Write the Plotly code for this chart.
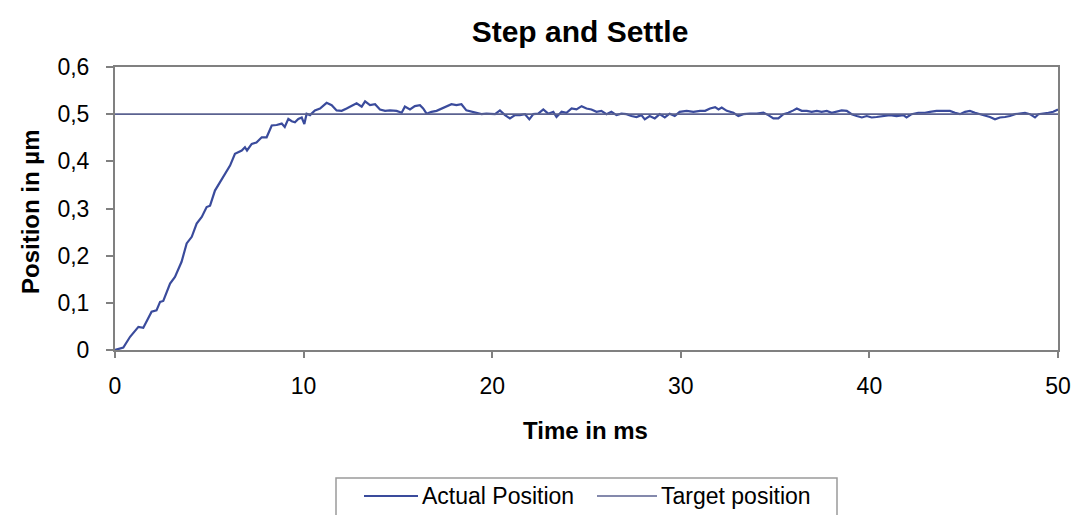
import plotly.graph_objects as go

time_ms = [0.0, 0.44, 0.8, 1.24, 1.5, 1.94, 2.2, 2.39, 2.56, 2.92, 3.18, 3.53, 3.8, 4.07, 4.33, 4.6,
           4.86, 5.04, 5.3, 5.57, 5.83, 6.1, 6.36, 6.54, 6.72, 6.89, 7.0, 7.25, 7.5, 7.78, 8.04,
           8.31, 8.57, 8.84, 9.0, 9.19, 9.37, 9.54, 9.72, 9.9, 10.04,
           10.16, 10.34, 10.6, 10.87, 11.22, 11.49, 11.75, 12.02, 12.28, 12.55, 12.81, 13.08,
           13.26, 13.52, 13.79, 14.05, 14.32, 14.58, 14.93, 15.2, 15.37, 15.64, 15.9, 16.17,
           16.34, 16.52, 16.78, 17.05, 17.31, 17.58, 17.84, 18.1, 18.37, 18.63, 18.9, 19.16,
           19.43, 19.69, 19.96,
           20.15, 20.41, 20.68, 20.94, 21.21, 21.47, 21.74, 21.97, 22.18, 22.44, 22.71, 22.97,
           23.24, 23.41, 23.68, 23.94, 24.21, 24.47, 24.74, 25.0, 25.26, 25.53, 25.79, 26.06,
           26.32, 26.59, 26.85, 27.12, 27.38, 27.65, 27.91, 28.09, 28.35, 28.62, 28.88, 29.15,
           29.41, 29.68, 29.94,
           30.31, 30.67, 31.02, 31.29, 31.55, 31.82, 32.0, 32.17, 32.44, 32.79, 33.05, 33.32,
           33.67, 34.03, 34.38, 34.64, 34.91, 35.17, 35.44, 35.7, 35.97, 36.15, 36.41, 36.68,
           36.94, 37.21, 37.47, 37.74, 38.0, 38.27, 38.53, 38.8, 39.06, 39.33, 39.6, 39.86,
           40.12, 40.38, 40.74, 41.09, 41.44, 41.8, 41.97, 42.24, 42.59, 42.95, 43.21, 43.56,
           43.92, 44.27, 44.54, 44.8, 45.07, 45.33, 45.6, 45.86, 46.13, 46.39, 46.66, 46.92,
           47.19, 47.45, 47.72, 47.98, 48.25, 48.51, 48.78, 48.96, 49.22, 49.49, 49.75, 50.0]

actual_position = [0.0, 0.005, 0.028, 0.049, 0.047, 0.081, 0.084, 0.102, 0.104, 0.141, 0.155, 0.187,
                   0.226, 0.24, 0.268, 0.282, 0.303, 0.306, 0.338, 0.356, 0.374, 0.391, 0.416, 0.419,
                   0.423, 0.43, 0.423, 0.437, 0.44, 0.451, 0.451, 0.476, 0.477, 0.48, 0.473, 0.49,
                   0.485, 0.483, 0.49, 0.493, 0.479,
                   0.501, 0.498, 0.508, 0.512, 0.524, 0.519, 0.508, 0.507, 0.512, 0.517, 0.523, 0.516,
                   0.527, 0.519, 0.521, 0.51, 0.507, 0.508, 0.507, 0.503, 0.516, 0.51, 0.517, 0.519,
                   0.512, 0.501, 0.505, 0.507, 0.512, 0.517, 0.521, 0.519, 0.521, 0.508, 0.505, 0.503,
                   0.5, 0.501, 0.5,
                   0.5, 0.508, 0.498, 0.491, 0.498, 0.498, 0.5, 0.489, 0.5, 0.501, 0.51, 0.501,
                   0.505, 0.494, 0.505, 0.503, 0.512, 0.51, 0.517, 0.512, 0.51, 0.505, 0.507, 0.5,
                   0.505, 0.498, 0.501, 0.5, 0.496, 0.494, 0.498, 0.489, 0.496, 0.491, 0.5, 0.493,
                   0.501, 0.496, 0.505,
                   0.507, 0.505, 0.507, 0.507, 0.512, 0.515, 0.51, 0.514, 0.507, 0.503, 0.496, 0.5,
                   0.501, 0.501, 0.503, 0.498, 0.491, 0.491, 0.5, 0.503, 0.508, 0.512, 0.507, 0.507,
                   0.505, 0.507, 0.505, 0.507, 0.503, 0.505, 0.508, 0.507, 0.5, 0.496, 0.493, 0.496,
                   0.493, 0.494, 0.496, 0.498, 0.496, 0.498, 0.493, 0.5, 0.503, 0.503, 0.505, 0.507,
                   0.507, 0.507, 0.503, 0.5, 0.505, 0.507, 0.503, 0.5, 0.498, 0.494, 0.489, 0.493,
                   0.494, 0.496, 0.5, 0.501, 0.503, 0.5, 0.493, 0.5, 0.501, 0.503, 0.505, 0.51]

target_time = [0, 50]
target_position = [0.5, 0.5]

series_names = ["Actual Position", "Target position"]
y_ticks = [0, 0.1, 0.2, 0.3, 0.4, 0.5, 0.6]
y_ticktext = ["0", "0,1", "0,2", "0,3", "0,4", "0,5", "0,6"]
x_ticks = [0, 10, 20, 30, 40, 50]

FONT = "Liberation Sans, Arial, sans-serif"
ACTUAL_COLOR = "#3a4b9c"
TARGET_COLOR = "#5b6290"

# body margin is removed by the post script, so the figure fills the window;
# plot area at screen px x 115..1058, y 67..350
W, H = 1075, 515
L, T = 115, 67
R = W - 1058
B = H - 350
PW, PH = W - L - R, H - T - B


def px_x(px):
    return (px - L) / PW


def px_y(py):
    return (H - B - py) / PH


fig = go.Figure()
fig.add_trace(go.Scatter(x=time_ms, y=actual_position, mode="lines", name=series_names[0],
                         showlegend=False, line=dict(color=ACTUAL_COLOR, width=2.2)))
fig.add_trace(go.Scatter(x=target_time, y=target_position, mode="lines", name=series_names[1],
                         showlegend=False, line=dict(color=TARGET_COLOR, width=1.6)))

# legend drawn as a boxed key below the plot
LEG_Y = 496
shapes = [
    dict(type="rect", xref="paper", yref="paper", x0=px_x(336), x1=px_x(837),
         y0=px_y(478), y1=px_y(530), line=dict(color="#9a9a9a", width=1.5), fillcolor="white", layer="below"),
    dict(type="line", xref="paper", yref="paper", x0=px_x(364), x1=px_x(418),
         y0=px_y(LEG_Y), y1=px_y(LEG_Y), line=dict(color=ACTUAL_COLOR, width=2.2)),
    dict(type="line", xref="paper", yref="paper", x0=px_x(597), x1=px_x(657),
         y0=px_y(LEG_Y), y1=px_y(LEG_Y), line=dict(color=TARGET_COLOR, width=1.6)),
]
annotations = [
    dict(text=series_names[0], xref="paper", yref="paper", x=px_x(420), y=px_y(LEG_Y),
         xanchor="left", yanchor="middle", showarrow=False, font=dict(size=23, family=FONT, color="black")),
    dict(text=series_names[1], xref="paper", yref="paper", x=px_x(659), y=px_y(LEG_Y),
         xanchor="left", yanchor="middle", showarrow=False, font=dict(size=23, family=FONT, color="black")),
    dict(text="<b>Time in ms</b>", xref="paper", yref="paper", x=px_x(585), y=px_y(430),
         xanchor="center", yanchor="middle", showarrow=False, font=dict(size=24, family=FONT, color="black")),
    dict(text="<b>Position in µm</b>", xref="paper", yref="paper", x=px_x(30), y=px_y(212),
         xanchor="center", yanchor="middle", showarrow=False, textangle=-90,
         font=dict(size=24, family=FONT, color="black")),
]

fig.update_layout(
    width=W, height=H,
    paper_bgcolor="white", plot_bgcolor="white",
    margin=dict(l=L, r=R, t=T, b=B, autoexpand=False),
    font=dict(family=FONT, color="black", size=23),
    title=dict(text="<b>Step and Settle</b>", x=580 / W, xanchor="center",
               y=1 - 31 / H, yanchor="middle", yref="container", xref="container",
               font=dict(size=30, family=FONT, color="black")),
    showlegend=False,
    hovermode=False,
    shapes=shapes,
    annotations=annotations,
)
fig.update_xaxes(range=[0, 50], tickvals=x_ticks, showgrid=False, zeroline=False,
                 showline=True, linecolor="#808080", linewidth=2, mirror=True,
                 ticks="outside", ticklen=6, tickcolor="#808080", tickwidth=1.5,
                 ticklabelstandoff=8, automargin=False, tickfont=dict(size=23))
fig.update_yaxes(range=[0, 0.6], tickvals=y_ticks, ticktext=y_ticktext, showgrid=False, zeroline=False,
                 showline=True, linecolor="#808080", linewidth=2, mirror=True,
                 ticks="outside", ticklen=7, tickcolor="#808080", tickwidth=1.5,
                 ticklabelstandoff=12, automargin=False, tickfont=dict(size=23))

fig.write_html("out.html", config={"displayModeBar": False},
               post_script="document.body.style.margin='0';document.body.style.overflow='hidden';")
